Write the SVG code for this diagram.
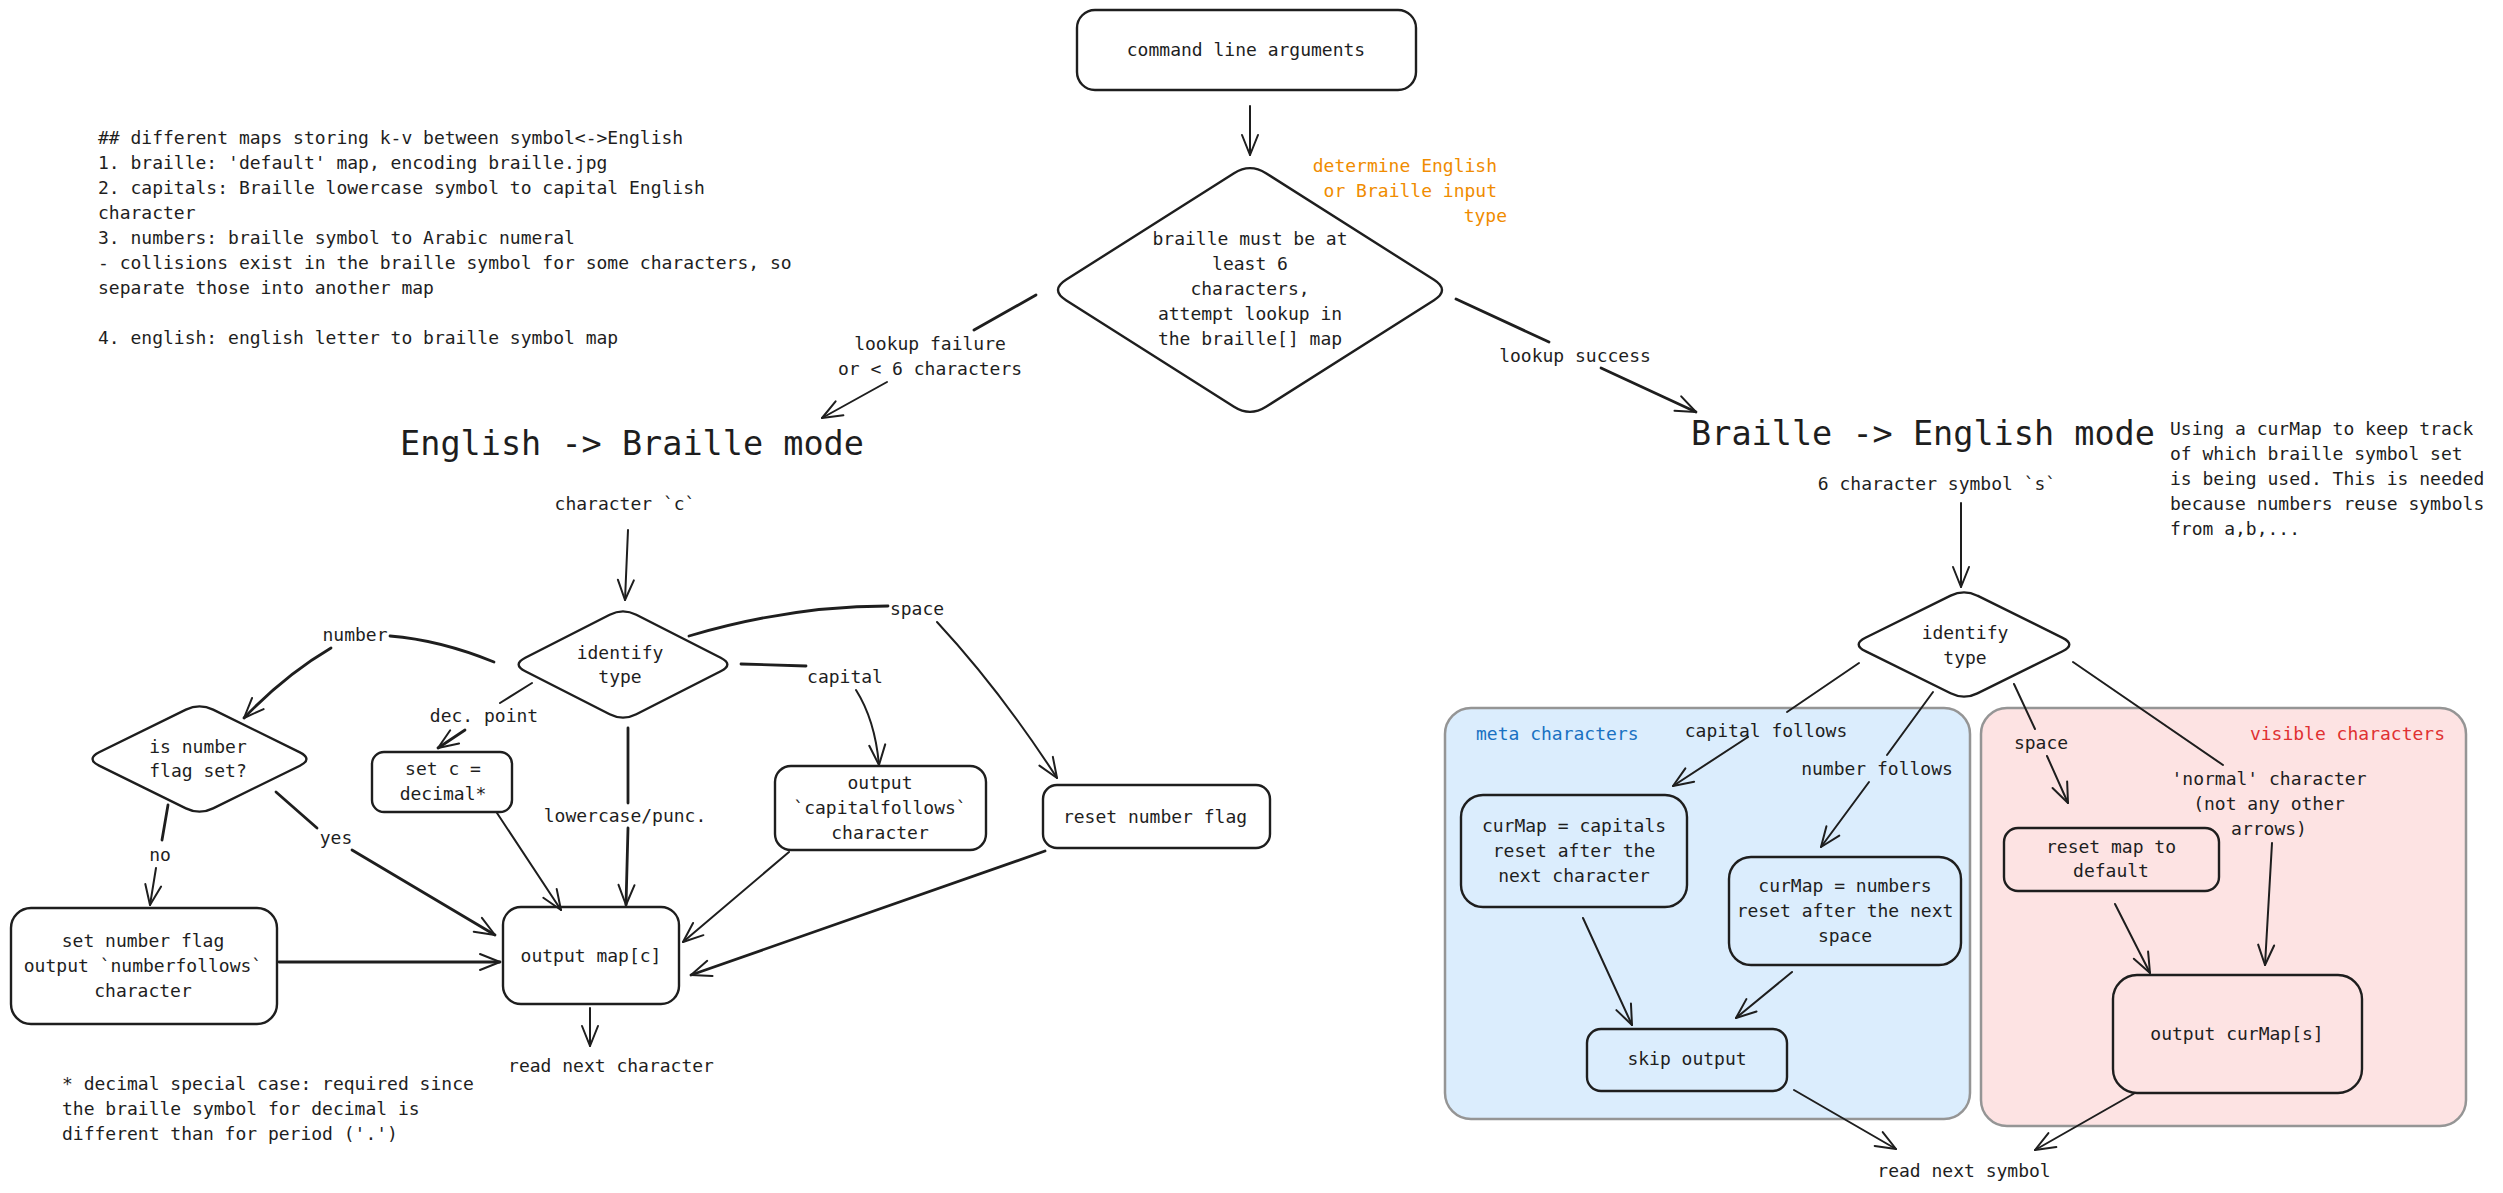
<svg xmlns="http://www.w3.org/2000/svg" width="2503" height="1193" viewBox="0 0 2503 1193">
<style>
text { font-family: "DejaVu Sans Mono", "Liberation Mono", monospace; font-size: 18px; fill: #1e1e1e; dominant-baseline: central; }
.c { text-anchor: middle; }
.e { text-anchor: end; }
.h { font-size: 33.5px; }
.or { fill: #f08c00; }
.bl { fill: #1971c2; }
.rd { fill: #e03131; }
.box { fill: none; stroke: #1e1e1e; stroke-width: 2.4; }
.ln { fill: none; stroke: #1e1e1e; stroke-width: 2; stroke-linecap: round; }
.thk { stroke-width: 2.8; }
.ar { marker-end: url(#ah); }
.cont { stroke: #959595; stroke-width: 2.5; }
</style>
<defs>
<marker id="ah" markerUnits="userSpaceOnUse" viewBox="0 0 22 20" markerWidth="22" markerHeight="20" refX="21" refY="10" orient="auto" overflow="visible">
<path d="M1,2 L21,10 L1,18" fill="none" stroke="#1e1e1e" stroke-width="2" stroke-linecap="round" stroke-linejoin="round"/>
</marker>
</defs>
<rect width="2503" height="1193" fill="#ffffff"/>

<g id="containers">
<rect id="meta-container" class="cont" x="1445" y="708" width="525" height="411" rx="26" fill="#dbedfd"/>
<rect id="visible-container" class="cont" x="1981" y="708" width="485" height="418" rx="26" fill="#fde3e3"/>
</g>

<g id="notes">
<text x="98" y="137">## different maps storing k-v between symbol&lt;-&gt;English</text>
<text x="98" y="162">1. braille: 'default' map, encoding braille.jpg</text>
<text x="98" y="187">2. capitals: Braille lowercase symbol to capital English</text>
<text x="98" y="212">character</text>
<text x="98" y="237">3. numbers: braille symbol to Arabic numeral</text>
<text x="98" y="262">- collisions exist in the braille symbol for some characters, so</text>
<text x="98" y="287">separate those into another map</text>
<text x="98" y="337">4. english: english letter to braille symbol map</text>
</g>
<g id="note-orange">
<text class="e or" x="1497" y="165">determine English</text>
<text class="e or" x="1497" y="190">or Braille input</text>
<text class="e or" x="1507" y="215">type</text>
</g>
<g id="note-curmap">
<text x="2170" y="428">Using a curMap to keep track</text>
<text x="2170" y="453">of which braille symbol set</text>
<text x="2170" y="478">is being used. This is needed</text>
<text x="2170" y="503">because numbers reuse symbols</text>
<text x="2170" y="528">from a,b,...</text>
</g>
<g id="note-decimal">
<text x="62" y="1083">* decimal special case: required since</text>
<text x="62" y="1108">the braille symbol for decimal is</text>
<text x="62" y="1133">different than for period ('.')</text>
</g>
<g id="meta-label"><text class="bl" x="1476" y="733">meta characters</text></g>
<g id="visible-label"><text class="e rd" x="2445" y="733">visible characters</text></g>

<g id="cmd">
<rect class="box" x="1077" y="10" width="339" height="80" rx="18"/>
<text class="c" x="1246" y="49">command line arguments</text>
</g>
<g id="check-diamond">
<path class="box" d="M1266,173.2 L1434,279.8 Q1450,290 1434,300.2 L1266,406.8 Q1250,417 1234,406.8 L1066,300.2 Q1050,290 1066,279.8 L1234,173.2 Q1250,163 1266,173.2 Z"/>
<text class="c" x="1250" y="238">braille must be at</text>
<text class="c" x="1250" y="263">least 6</text>
<text class="c" x="1250" y="288">characters,</text>
<text class="c" x="1250" y="313">attempt lookup in</text>
<text class="c" x="1250" y="338">the braille[] map</text>
</g>
<g id="eng-title"><text class="c h" x="632" y="443">English -&gt; Braille mode</text></g>
<g id="br-title"><text class="c h" x="1923" y="433">Braille -&gt; English mode</text></g>

<g id="char-c"><text class="c" x="625" y="503">character `c`</text></g>
<g id="identify-left">
<path class="box" d="M636.3,614.8 L720.7,657.7 Q734,664.5 720.7,671.3 L636.3,714.2 Q623,721 609.7,714.2 L525.3,671.3 Q512,664.5 525.3,657.7 L609.7,614.8 Q623,608 636.3,614.8 Z"/>
<text class="c" x="620" y="652">identify</text>
<text class="c" x="620" y="676">type</text>
</g>
<g id="numflag-diamond">
<path class="box" d="M213.1,709.7 L299.9,752.3 Q313,759 299.9,765.7 L213.1,808.3 Q199.5,815 185.9,808.3 L99.1,765.7 Q86,759 99.1,752.3 L185.9,709.7 Q199.5,703 213.1,709.7 Z"/>
<text class="c" x="198" y="746">is number</text>
<text class="c" x="198" y="770">flag set?</text>
</g>
<g id="set-decimal">
<rect class="box" x="372" y="752" width="140" height="60" rx="12"/>
<text class="c" x="443" y="768">set c =</text>
<text class="c" x="443" y="793">decimal*</text>
</g>
<g id="out-capfollows">
<rect class="box" x="775" y="766" width="211" height="84" rx="16"/>
<text class="c" x="880" y="782">output</text>
<text class="c" x="880" y="807">`capitalfollows`</text>
<text class="c" x="880" y="832">character</text>
</g>
<g id="reset-numflag">
<rect class="box" x="1043" y="785" width="227" height="63" rx="14"/>
<text class="c" x="1155" y="816">reset number flag</text>
</g>
<g id="set-numflag">
<rect class="box" x="11" y="908" width="266" height="116" rx="20"/>
<text class="c" x="143" y="940">set number flag</text>
<text class="c" x="143" y="965">output `numberfollows`</text>
<text class="c" x="143" y="990">character</text>
</g>
<g id="out-map">
<rect class="box" x="503" y="907" width="176" height="97" rx="18"/>
<text class="c" x="591" y="955">output map[c]</text>
</g>
<g id="read-next-char"><text class="c" x="611" y="1065">read next character</text></g>

<g id="sym-s"><text class="c" x="1937" y="483">6 character symbol `s`</text></g>
<g id="identify-right">
<path class="box" d="M1977.4,595.7 L2062.6,637.8 Q2076,644.5 2062.6,651.2 L1977.4,693.3 Q1964,700 1950.6,693.3 L1865.4,651.2 Q1852,644.5 1865.4,637.8 L1950.6,595.7 Q1964,589 1977.4,595.7 Z"/>
<text class="c" x="1965" y="632">identify</text>
<text class="c" x="1965" y="657">type</text>
</g>
<g id="cur-capitals">
<rect class="box" x="1461" y="795" width="226" height="112" rx="22"/>
<text class="c" x="1574" y="825">curMap = capitals</text>
<text class="c" x="1574" y="850">reset after the</text>
<text class="c" x="1574" y="875">next character</text>
</g>
<g id="cur-numbers">
<rect class="box" x="1729" y="857" width="232" height="108" rx="22"/>
<text class="c" x="1845" y="885">curMap = numbers</text>
<text class="c" x="1845" y="910">reset after the next</text>
<text class="c" x="1845" y="935">space</text>
</g>
<g id="skip-output">
<rect class="box" x="1587" y="1029" width="200" height="62" rx="14"/>
<text class="c" x="1687" y="1058">skip output</text>
</g>
<g id="reset-map">
<rect class="box" x="2004" y="828" width="215" height="63" rx="14"/>
<text class="c" x="2111" y="846">reset map to</text>
<text class="c" x="2111" y="870">default</text>
</g>
<g id="out-curmap">
<rect class="box" x="2113" y="975" width="249" height="118" rx="24"/>
<text class="c" x="2237" y="1033">output curMap[s]</text>
</g>
<g id="read-next-sym"><text class="c" x="1964" y="1170">read next symbol</text></g>

<g id="connectors">
<path class="ln ar" d="M1250,106 L1250,155"/>
<path class="ln thk" d="M1036,295 L974,330"/>
<path class="ln ar" d="M887,382 L822,418"/>
<path class="ln thk" d="M1456,299 L1549,342"/>
<path class="ln thk ar" d="M1601,368 L1696,412"/>

<path class="ln ar" d="M628,530 L625,600"/>
<path class="ln thk" d="M494,662 Q440,640 390,636"/>
<path class="ln thk ar" d="M331,648 Q285,675 244,718"/>
<path class="ln" d="M532,683 L500,703"/>
<path class="ln thk ar" d="M465,730 L438,748"/>
<path class="ln thk" d="M628,728 L628,803"/>
<path class="ln thk ar" d="M628,828 L626,905"/>
<path class="ln thk" d="M741,664 L806,666"/>
<path class="ln ar" d="M856,690 Q875,720 879,765"/>
<path class="ln thk" d="M689,636 Q790,606 888,606"/>
<path class="ln ar" d="M937,622 Q1000,690 1057,778"/>
<path class="ln thk" d="M168,805 L162,840"/>
<path class="ln ar" d="M156,868 L150,905"/>
<path class="ln thk" d="M276,792 L317,828"/>
<path class="ln thk ar" d="M352,850 L495,935"/>
<path class="ln ar" d="M497,813 L561,910"/>
<path class="ln ar" d="M789,852 L683,942"/>
<path class="ln thk ar" d="M1045,851 L691,975"/>
<path class="ln thk ar" d="M279,962 L500,962"/>
<path class="ln ar" d="M590,1008 L590,1046"/>

<path class="ln ar" d="M1961,503 L1961,587"/>
<path class="ln" d="M1859,663 L1787,712"/>
<path class="ln ar" d="M1748,737 L1673,786"/>
<path class="ln" d="M1933,692 L1887,755"/>
<path class="ln ar" d="M1869,782 L1821,847"/>
<path class="ln" d="M2014,684 L2035,729"/>
<path class="ln ar" d="M2047,756 L2068,803"/>
<path class="ln" d="M2073,662 L2223,765"/>
<path class="ln ar" d="M2272,843 L2265,965"/>
<path class="ln ar" d="M1583,918 L1632,1025"/>
<path class="ln ar" d="M1792,972 L1736,1018"/>
<path class="ln ar" d="M2115,904 L2150,973"/>
<path class="ln ar" d="M1794,1090 L1896,1149"/>
<path class="ln ar" d="M2135,1093 L2035,1150"/>

<g id="edge-labels">
<text class="c" x="930" y="343">lookup failure</text>
<text class="c" x="930" y="368">or &lt; 6 characters</text>
<text class="c" x="1575" y="355">lookup success</text>
<text class="c" x="355" y="634">number</text>
<text class="c" x="484" y="715">dec. point</text>
<text class="c" x="625" y="815">lowercase/punc.</text>
<text class="c" x="845" y="676">capital</text>
<text class="c" x="917" y="608">space</text>
<text class="c" x="160" y="854">no</text>
<text class="c" x="336" y="837">yes</text>
<text class="c" x="1766" y="730">capital follows</text>
<text class="c" x="1877" y="768">number follows</text>
<text class="c" x="2041" y="742">space</text>
<text class="c" x="2269" y="778">'normal' character</text>
<text class="c" x="2269" y="803">(not any other</text>
<text class="c" x="2269" y="828">arrows)</text>
</g>
</g>
</svg>
